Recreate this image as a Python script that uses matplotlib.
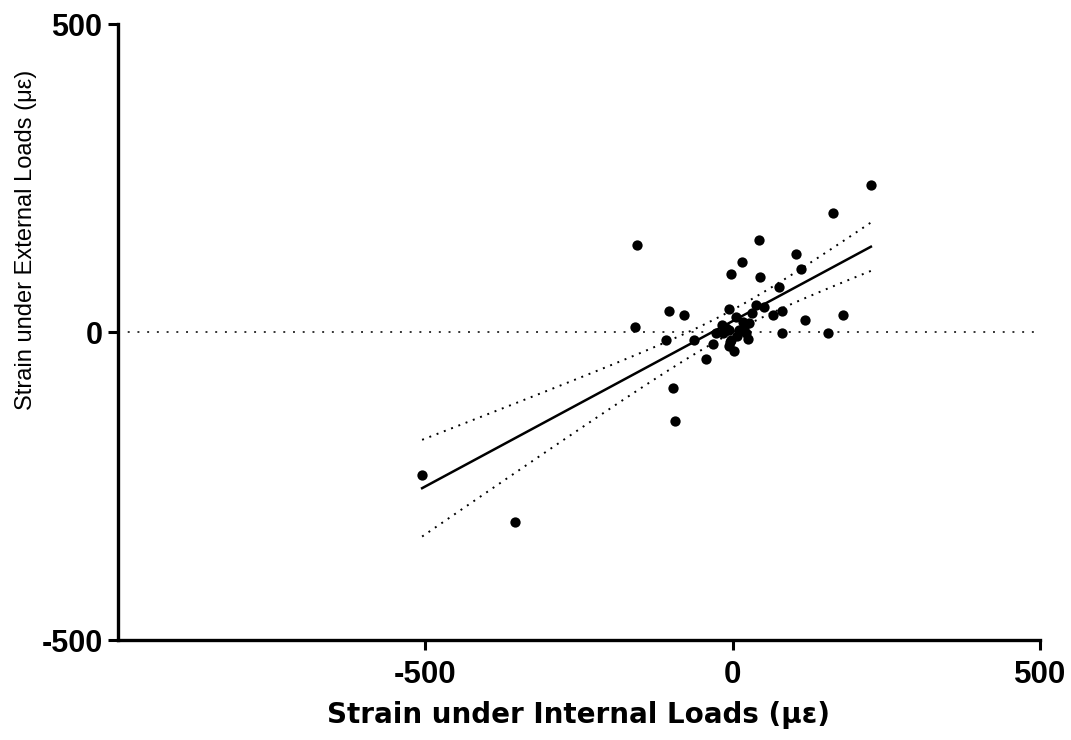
import numpy as np
import matplotlib
matplotlib.use('Agg')
import matplotlib.pyplot as plt

# strain values (micro-strain)
internal = [225, 164, -155, 43, 16, -3, 44, 104, 112, 76,
            -6, -104, -79, -159, -108, -62, -44, 66, 81, 118,
            179, 80, 156, 38, 51, 32, 6, 17, 27, -17,
            -27, -5, 11, 22, 25, -2, -5, 2, -32, -16,
            -505, -354, -97, -94, -10, 8, 19, -4]
external = [239, 193, 142, 149, 113, 94, 89, 126, 102, 73,
            38, 34, 27, 8, -13, -13, -44, 27, 34, 20,
            27, -2, -2, 44, 40, 31, 25, 17, 14, 11,
            -2, 4, 3, -2, -12, -13, -23, -31, -20, -2,
            -232, -308, -90, -145, 6, -6, 9, -16]

x = np.array(internal, dtype=float)
y = np.array(external, dtype=float)

# linear fit with 95% confidence band
n = len(x)
slope, intercept = np.polyfit(x, y, 1)
resid = y - (slope * x + intercept)
s_err = np.sqrt(np.sum(resid ** 2) / (n - 2))
t_val = 2.013
xf = np.linspace(x.min(), x.max(), 100)
yf = slope * xf + intercept
ci = t_val * s_err * np.sqrt(1.0 / n + (xf - x.mean()) ** 2 / np.sum((x - x.mean()) ** 2))

fig = plt.figure(figsize=(10.71, 7.4), dpi=100)
ax = fig.add_axes([0.110, 0.135, 0.861, 0.8325])

ax.axhline(0, color='#333333', lw=1.4, ls=(0, (1, 4)), zorder=1)
ax.plot(xf, yf, color='black', lw=1.8, zorder=2)
ax.plot(xf, yf + ci, color='black', lw=1.4, ls=(0, (1, 3)), zorder=2)
ax.plot(xf, yf - ci, color='black', lw=1.4, ls=(0, (1, 3)), zorder=2)
ax.scatter(x, y, s=55, color='black', zorder=3, linewidths=0)

ax.set_xlim(-1000, 500)
ax.set_ylim(-500, 500)
ax.set_xticks([-500, 0, 500])
ax.set_yticks([-500, 0, 500])
ax.set_xticklabels(['-500', '0', '500'])
ax.set_yticklabels(['-500', '0', '500'])

for side in ['top', 'right']:
    ax.spines[side].set_visible(False)
for side in ['left', 'bottom']:
    ax.spines[side].set_linewidth(2.4)
ax.tick_params(width=2.2, length=7, direction='out')
ax.tick_params(axis='x', pad=7)
ax.tick_params(axis='y', pad=4)

for lab in ax.get_xticklabels():
    lab.set_fontfamily(['Liberation Sans', 'DejaVu Sans'])
    lab.set_fontweight('bold')
    lab.set_fontsize(22.5)
for lab in ax.get_yticklabels():
    lab.set_fontfamily(['Liberation Sans', 'DejaVu Sans'])
    lab.set_fontweight('bold')
    lab.set_fontsize(22)

ax.set_xlabel('Strain under Internal Loads (\u03bc\u03b5)', family='DejaVu Sans',
              fontweight='bold', fontsize=20, labelpad=8)
ax.set_ylabel('Strain under External Loads (\u03bc\u03b5)',
              family=['Liberation Sans', 'DejaVu Sans'], fontsize=17)
ax.yaxis.set_label_coords(-0.088, 0.65)

fig.savefig('out.png', dpi=100)
